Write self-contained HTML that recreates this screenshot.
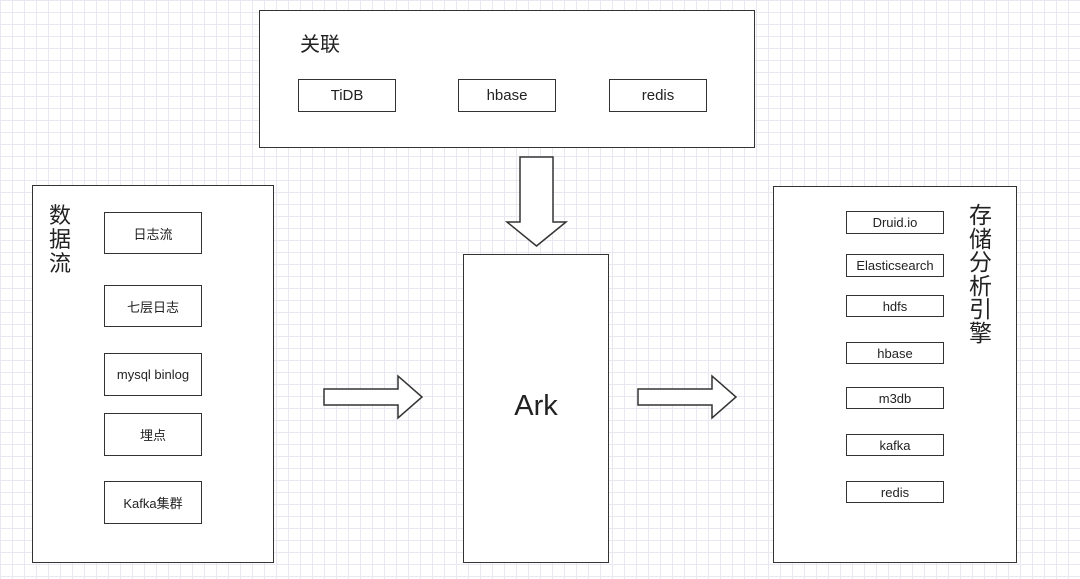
<!DOCTYPE html>
<html><head><meta charset="utf-8"><style>
body{margin:0;width:1080px;height:579px;overflow:hidden;background:#fff;
background-image:linear-gradient(#e8e8f0 1px,transparent 1px),linear-gradient(90deg,#e8e8f0 1px,transparent 1px);background-size:12px 12px;
font-family:"Liberation Sans","Noto Sans CJK SC",sans-serif;position:relative}
.b{position:absolute;border:1.5px solid #333;background:#fff;box-sizing:border-box}
.s{position:absolute;border:1.5px solid #333;background:#fff;box-sizing:border-box;display:flex;align-items:center;justify-content:center;font-size:13px;color:#222}
.t{position:absolute;color:#222}
</style></head><body>
<div class="b" style="left:259px;top:10px;width:496px;height:138px"></div>
<div class="t" style="left:300px;top:28px;font-size:20px">关联</div>
<div class="s" style="left:298px;top:79px;width:98px;height:33px;font-size:15px">TiDB</div>
<div class="s" style="left:458px;top:79px;width:98px;height:33px;font-size:15px">hbase</div>
<div class="s" style="left:609px;top:79px;width:98px;height:33px;font-size:15px">redis</div>

<div class="b" style="left:32px;top:185px;width:242px;height:378px"></div>
<div class="t" style="left:49px;top:204px;font-size:22px;line-height:24px;width:24px">数据流</div>
<div class="s" style="left:104px;top:212px;width:98px;height:42px">日志流</div>
<div class="s" style="left:104px;top:285px;width:98px;height:42px">七层日志</div>
<div class="s" style="left:104px;top:353px;width:98px;height:43px">mysql binlog</div>
<div class="s" style="left:104px;top:413px;width:98px;height:43px">埋点</div>
<div class="s" style="left:104px;top:481px;width:98px;height:43px">Kafka集群</div>

<div class="b" style="left:463px;top:254px;width:146px;height:309px"></div>
<div class="t" style="left:463px;top:390px;width:146px;text-align:center;font-size:29px">Ark</div>

<div class="b" style="left:773px;top:186px;width:244px;height:377px"></div>
<div class="t" style="left:969px;top:204px;font-size:23px;line-height:23.5px;width:24px">存储分析引擎</div>
<div class="s" style="left:846px;top:211px;width:98px;height:23px">Druid.io</div>
<div class="s" style="left:846px;top:254px;width:98px;height:23px">Elasticsearch</div>
<div class="s" style="left:846px;top:295px;width:98px;height:22px">hdfs</div>
<div class="s" style="left:846px;top:342px;width:98px;height:22px">hbase</div>
<div class="s" style="left:846px;top:387px;width:98px;height:22px">m3db</div>
<div class="s" style="left:846px;top:434px;width:98px;height:22px">kafka</div>
<div class="s" style="left:846px;top:481px;width:98px;height:22px">redis</div>

<svg width="1080" height="579" style="position:absolute;left:0;top:0">
<g fill="#fff" stroke="#333" stroke-width="1.5">
<polygon points="520,157 553,157 553,222 566,222 536.5,246 507,222 520,222"/>
<polygon points="324,389 398,389 398,376 422,397 398,418 398,405 324,405"/>
<polygon points="638,389 712,389 712,376 736,397 712,418 712,405 638,405"/>
</g></svg>
</body></html>
